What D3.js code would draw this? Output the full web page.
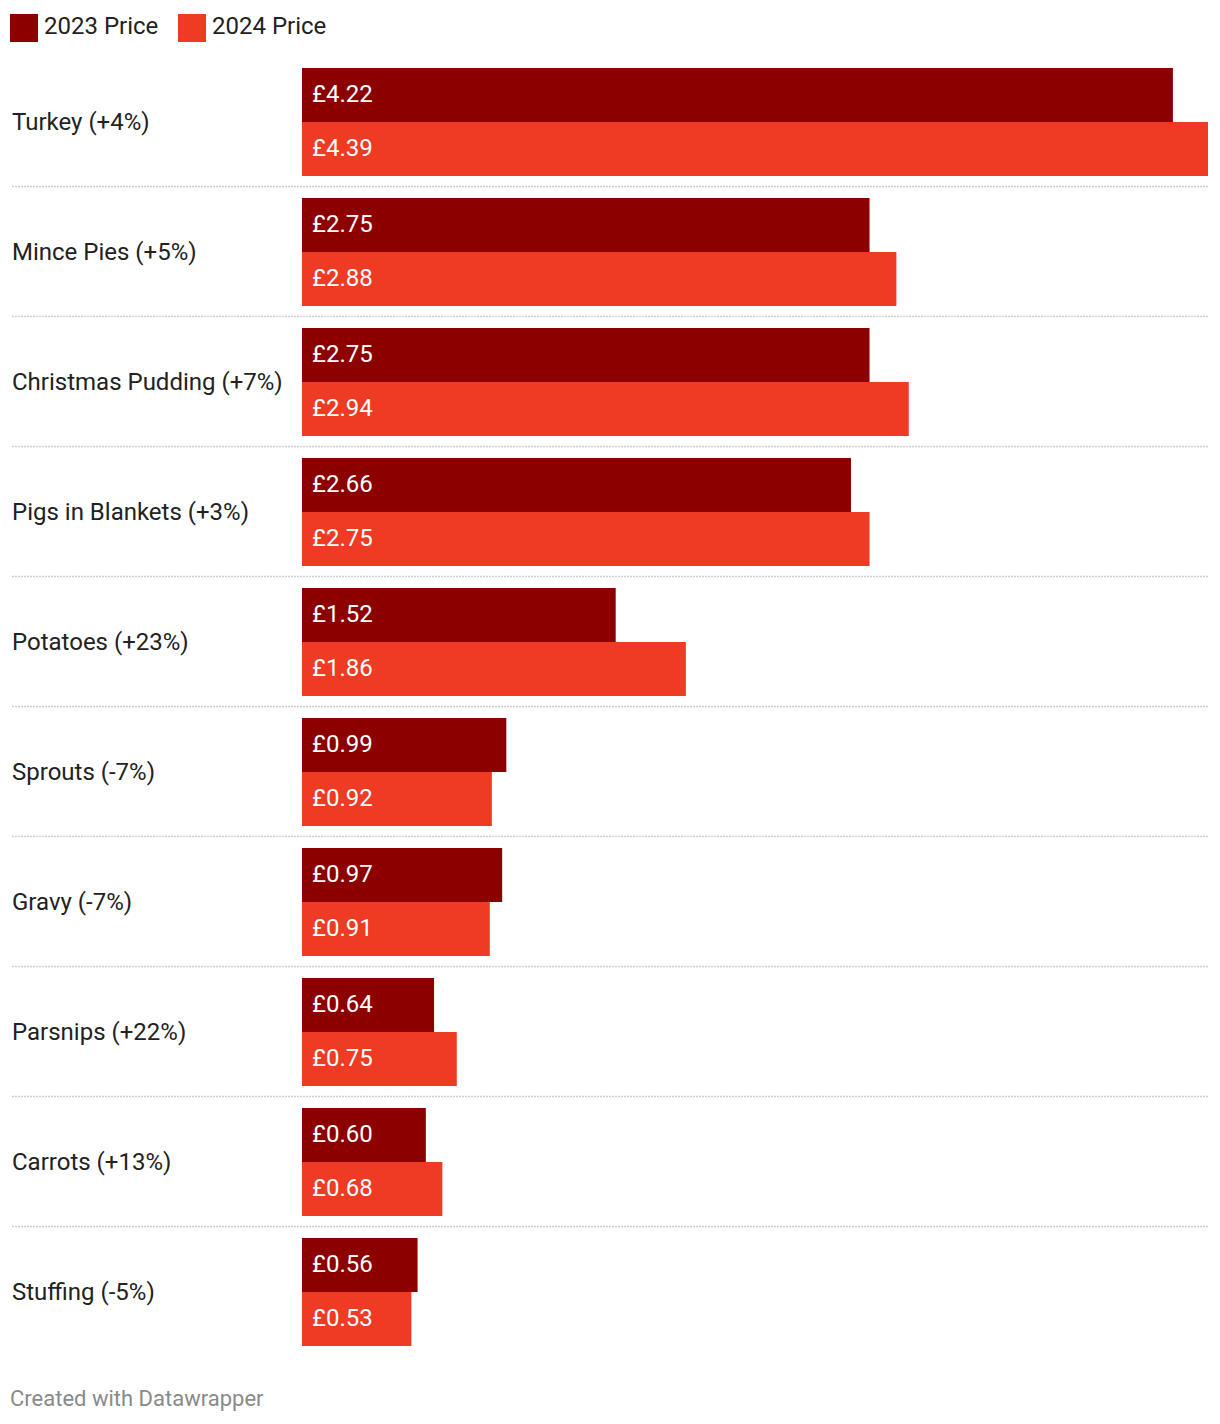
<!DOCTYPE html>
<html><head><meta charset="utf-8">
<script src="https://cdn.jsdelivr.net/npm/d3@7"></script>
<style>body{margin:0;background:#fff;font-family:Roboto,sans-serif;}</style>
</head><body>
<svg id="c" width="1220" height="1424"></svg>
<script>
const categories = ["Turkey (+4%)","Mince Pies (+5%)","Christmas Pudding (+7%)","Pigs in Blankets (+3%)","Potatoes (+23%)","Sprouts (-7%)","Gravy (-7%)","Parsnips (+22%)","Carrots (+13%)","Stuffing (-5%)"];
const price2023 = [4.22,2.75,2.75,2.66,1.52,0.99,0.97,0.64,0.60,0.56];
const price2024 = [4.39,2.88,2.94,2.75,1.86,0.92,0.91,0.75,0.68,0.53];
const seriesNames = ["2023 Price","2024 Price"];
const colors = ["#8c0000","#ef3b24"];

const svg = d3.select("#c");
const font = "Roboto, sans-serif";
const fs = 24;

const x = d3.scaleLinear().domain([0, d3.max(price2024.concat(price2023))]).range([302, 1208]);
const y = d3.scaleBand().domain(categories).range([58, 1358]).paddingInner(0).paddingOuter(0);
const padTop = 10, padBottom = 12;
const sub = d3.scaleBand().domain(seriesNames).range([0, y.bandwidth() - padTop - padBottom]);

// legend
const leg = svg.append("g");
const legX = [10, 178];
seriesNames.forEach((s,i)=>{
  leg.append("rect").attr("x",legX[i]).attr("y",14).attr("width",28).attr("height",28).attr("fill",colors[i]);
  leg.append("text").attr("x",legX[i]+34).attr("y",34).text(s).attr("font-family",font).attr("font-size",fs).attr("fill","#222");
});

// separators
categories.slice(0,-1).forEach(c=>{
  const yy = y(c) + padTop + sub.range()[1] + 10.5;
  svg.append("line").attr("x1",12).attr("x2",1208).attr("y1",yy).attr("y2",yy)
    .attr("stroke","#cfcfcf").attr("stroke-width",1.3).attr("stroke-dasharray","2,1");
});

const data = categories.map((c,i)=>({c, vals:[price2023[i], price2024[i]]}));
const g = svg.selectAll("g.grp").data(data).join("g").attr("class","grp")
  .attr("transform", d=>`translate(0,${y(d.c)+padTop})`);

g.append("text").attr("x",12).attr("y", sub.bandwidth()).attr("dy","0.33em")
  .text(d=>d.c).attr("font-family",font).attr("font-size",fs).attr("fill","#222");

seriesNames.forEach((s,i)=>{
  g.append("rect").attr("x",x(0)).attr("y",sub(s)).attr("width",d=>x(d.vals[i])-x(0)).attr("height",sub.bandwidth()).attr("fill",colors[i]);
  g.append("text").attr("x",x(0)+10).attr("y",sub(s)+sub.bandwidth()/2 - 1).attr("dy","0.35em")
    .text(d=>"£"+d.vals[i].toFixed(2)).attr("font-family",font).attr("font-size",fs).attr("fill","#fff");
});

svg.append("text").attr("x",10).attr("y",1406).text("Created with Datawrapper")
  .attr("font-family",font).attr("font-size",22).attr("fill","#8a8a8a");
</script>
</body></html>
